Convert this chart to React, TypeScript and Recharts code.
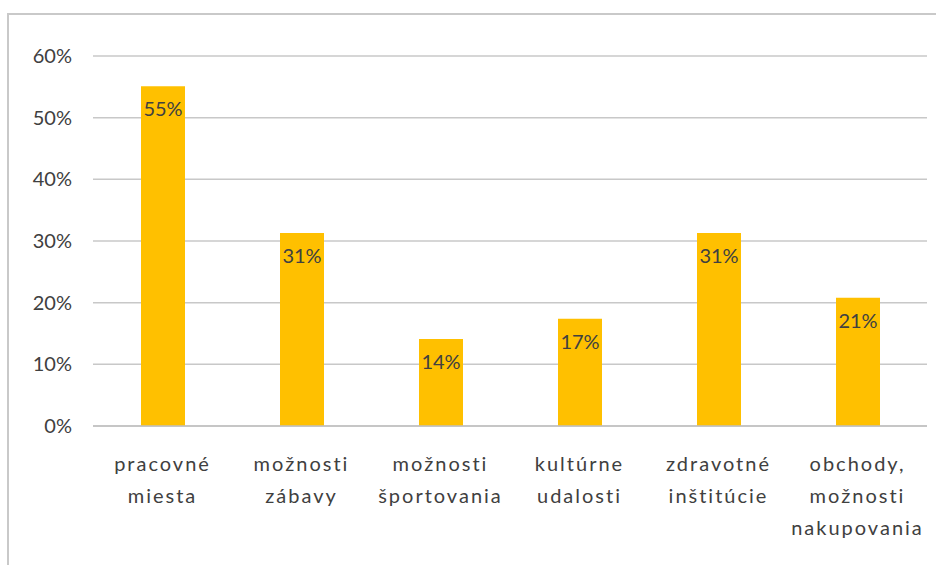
import React from 'react';
import { BarChart, Bar, XAxis, YAxis, CartesianGrid, LabelList } from 'recharts';

const categories = [
  ['pracovné', 'miesta'],
  ['možnosti', 'zábavy'],
  ['možnosti', 'športovania'],
  ['kultúrne', 'udalosti'],
  ['zdravotné', 'inštitúcie'],
  ['obchody,', 'možnosti', 'nakupovania'],
];
// labels show them rounded
const values = [55.1, 31.3, 14.1, 17.4, 31.3, 20.8];
const yTicks = [0, 10, 20, 30, 40, 50, 60];

const chartData = categories.map((lines, i) => ({
  name: lines.join(' '),
  lines,
  value: values[i],
}));

const FONT = 'Lato, "Open Sans", sans-serif';
const TEXT = '#404040';

// wrapped category label, one tspan per line
const CategoryTick = (props: any) => {
  const { x, y, index } = props;
  const lines = categories[index] || [];
  return (
    <text
      x={x}
      y={y}
      textAnchor="middle"
      fill={TEXT}
      fontSize={20}
      fontFamily={FONT}
      style={{ letterSpacing: '2px' }}
    >
      {lines.map((l, i) => (
        <tspan key={i} x={x} y={y + 45 + i * 32}>
          {l}
        </tspan>
      ))}
    </text>
  );
};

export default function App() {
  return (
    <div
      style={{
        position: 'absolute',
        left: 0,
        top: 0,
        width: 936,
        height: 565,
        background: '#fff',
        overflow: 'hidden',
      }}
    >
      <div
        style={{
          position: 'absolute',
          left: 7,
          top: 13,
          width: 940,
          height: 560,
          borderLeft: '2px solid #c9c9c9',
          borderTop: '2px solid #c9c9c9',
        }}
      />
      <BarChart
        width={936}
        height={565}
        data={chartData}
        margin={{ top: 56, right: 9, bottom: 0, left: 0 }}
        style={{ position: 'absolute', left: 0, top: 0, fontFamily: FONT }}
      >
        <CartesianGrid vertical={false} stroke="#c8c8c8" strokeWidth={1.5} />
        <XAxis
          dataKey="name"
          height={139}
          interval={0}
          tickLine={false}
          tickSize={0}
          tickMargin={0}
          axisLine={{ stroke: '#c0c0c0', strokeWidth: 1.5 }}
          tick={<CategoryTick />}
        />
        <YAxis
          width={93}
          domain={[0, 60]}
          ticks={yTicks}
          axisLine={false}
          tickLine={false}
          tickSize={0}
          tickMargin={21}
          tickFormatter={(v: number) => `${v}%`}
          tick={{ fill: TEXT, fontSize: 20, fontFamily: FONT }}
        />
        <Bar dataKey="value" fill="#FFC000" barSize={44} isAnimationActive={false}>
          <LabelList
            dataKey="value"
            position="insideTop"
            offset={16}
            formatter={(v: number) => `${Math.round(v)}%`}
            fill={TEXT}
            fontSize={20}
            fontFamily={FONT}
          />
        </Bar>
      </BarChart>
    </div>
  );
}
